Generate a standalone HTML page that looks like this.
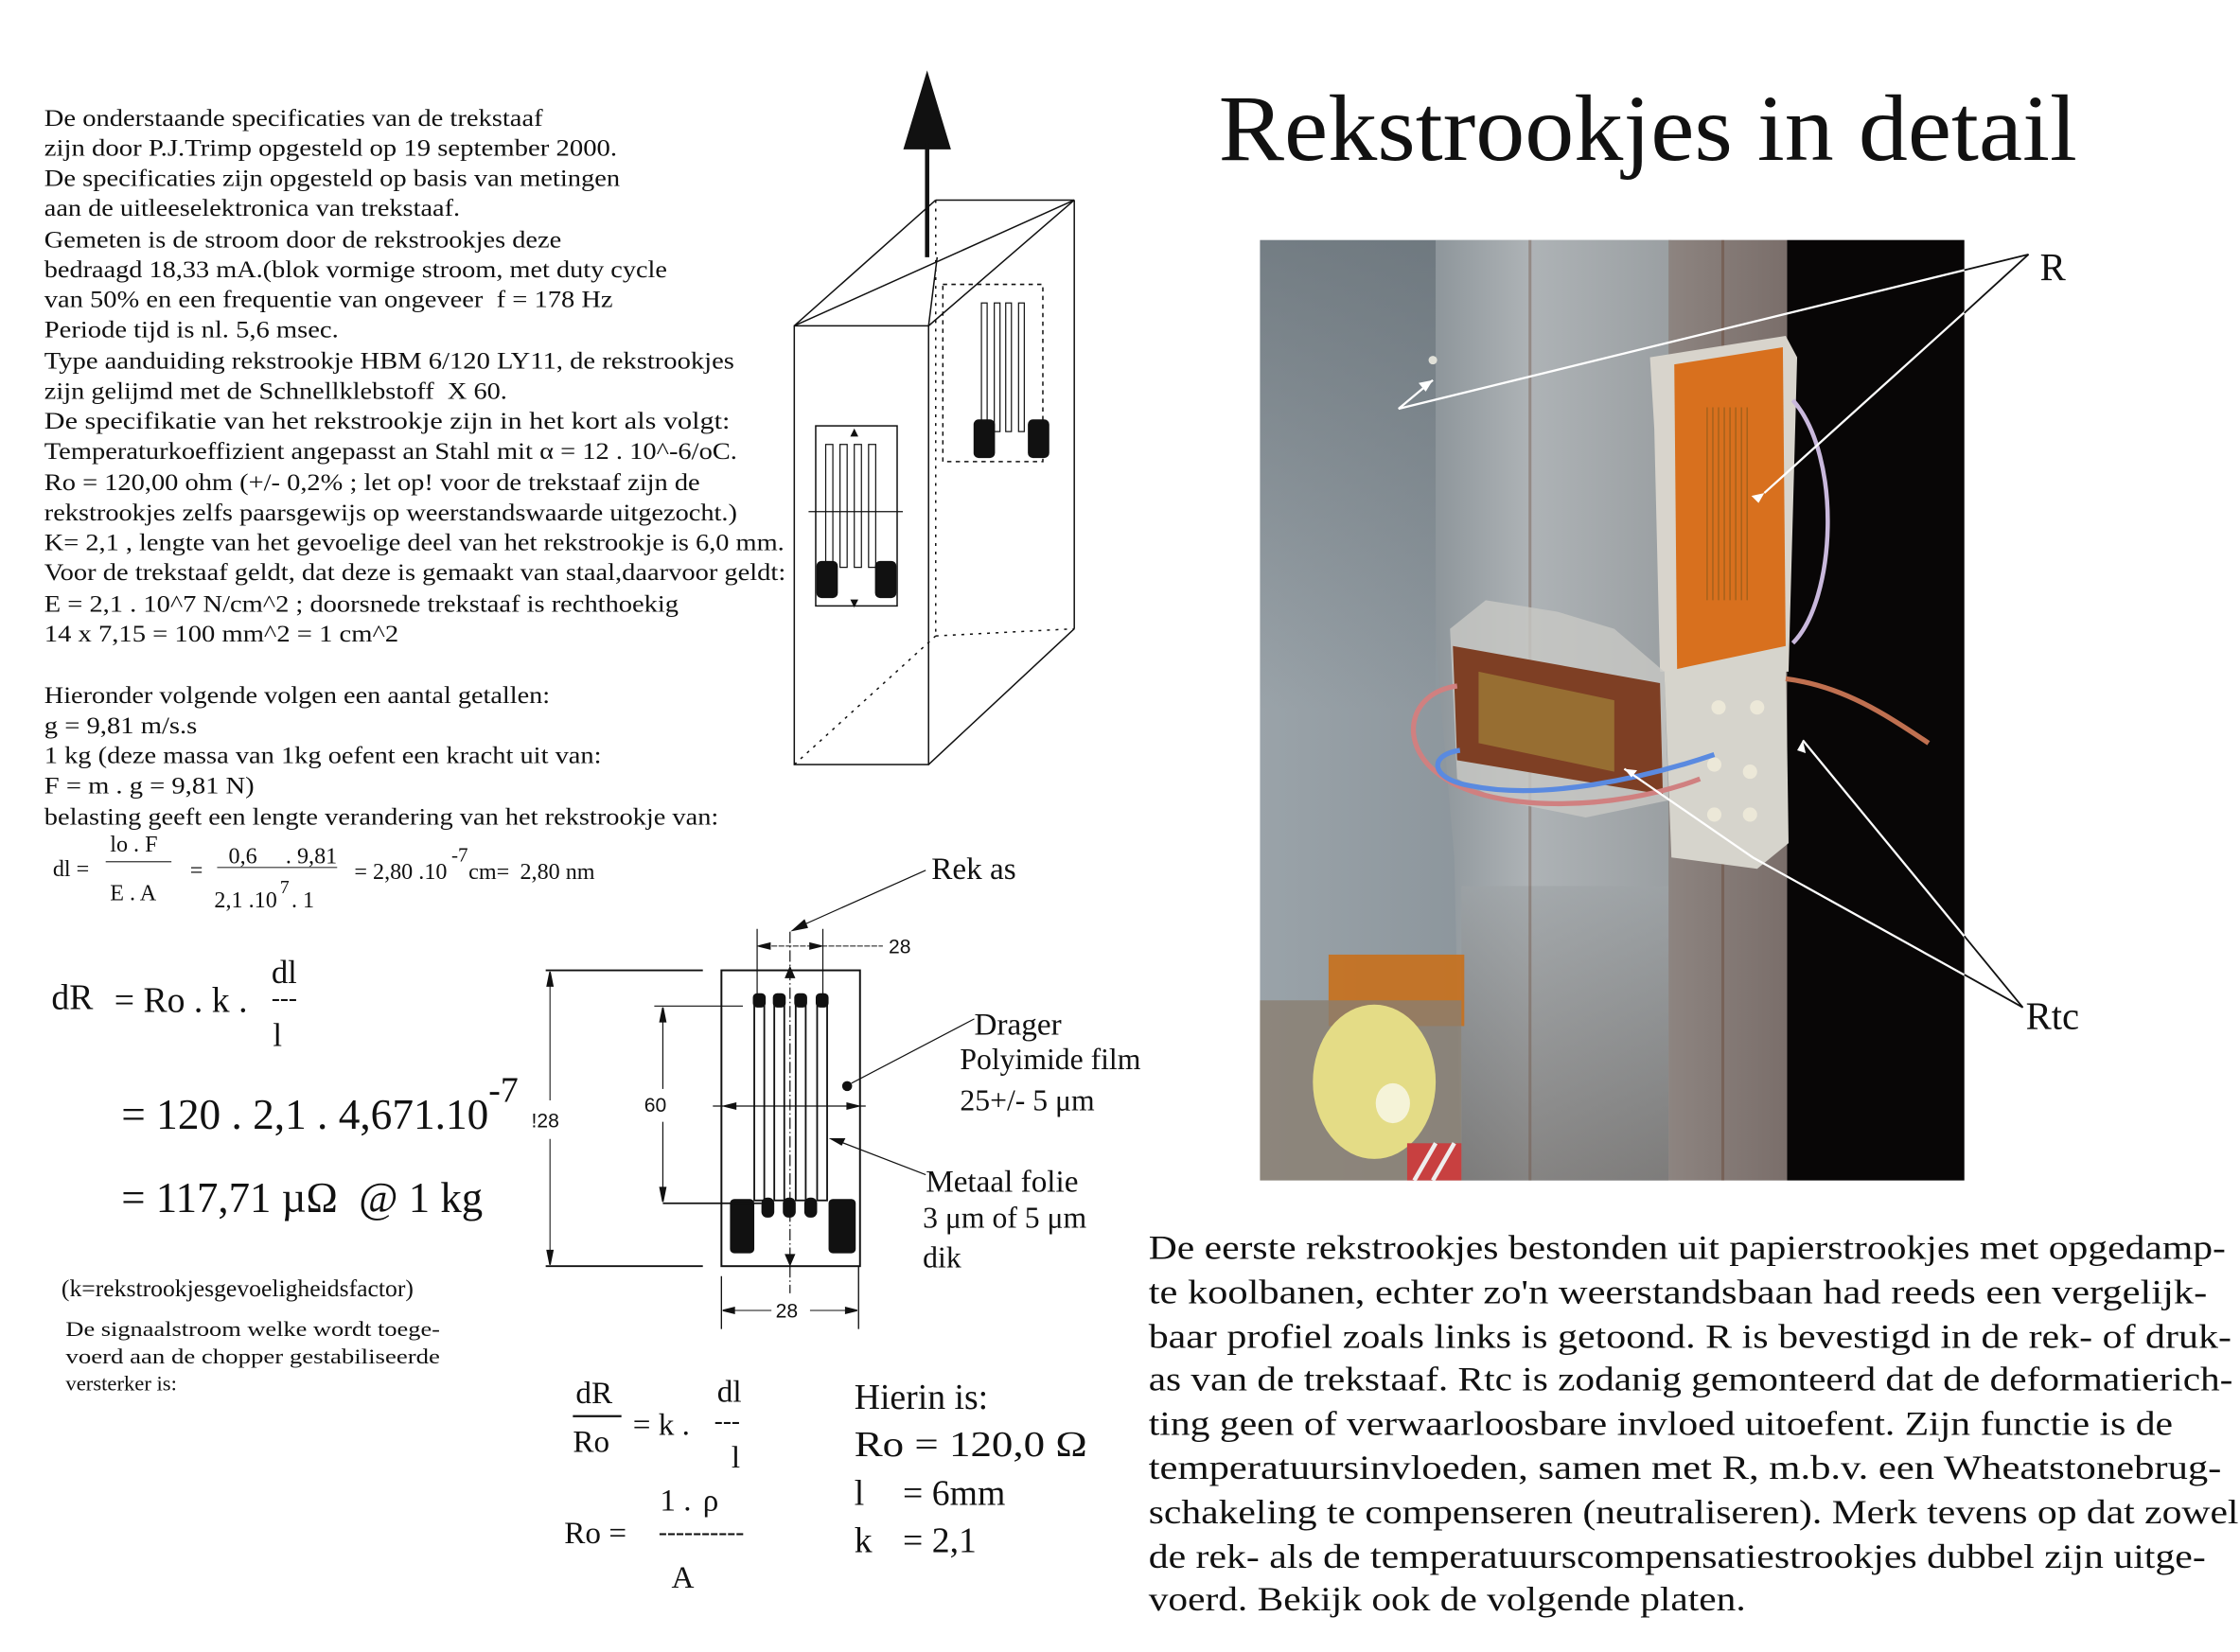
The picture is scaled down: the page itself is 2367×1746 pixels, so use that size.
<!DOCTYPE html>
<html><head><meta charset="utf-8"><style>
html,body{margin:0;padding:0;background:#fff;}
svg{display:block;}
text{font-family:"Liberation Serif",serif;fill:#111;white-space:pre;}
.s{font-family:"Liberation Sans",sans-serif;}
</style></head><body>
<svg width="2367" height="1746" viewBox="0 0 1568 1156" preserveAspectRatio="none" xmlns="http://www.w3.org/2000/svg">
<defs>
<linearGradient id="bg" x1="0" x2="1" y1="0" y2="0"><stop offset="0" stop-color="#9aa3a9"/><stop offset="0.6" stop-color="#7e888f"/><stop offset="1" stop-color="#5e666c"/></linearGradient>
<linearGradient id="bgv" x1="0" x2="0" y1="0" y2="1"><stop offset="0" stop-color="#5a646b" stop-opacity="0.6"/><stop offset="0.5" stop-color="#5a646b" stop-opacity="0"/></linearGradient>
<linearGradient id="front" x1="0" x2="1"><stop offset="0" stop-color="#8e969b"/><stop offset="0.4" stop-color="#aeb3b6"/><stop offset="1" stop-color="#9a9fa2"/></linearGradient>
<linearGradient id="side" x1="0" x2="1"><stop offset="0" stop-color="#8d8480"/><stop offset="1" stop-color="#7a6e6a"/></linearGradient>
<linearGradient id="lowfront" x1="0" y1="0" x2="0" y2="1"><stop offset="0" stop-color="#9ea3a6"/><stop offset="1" stop-color="#6a6460"/></linearGradient>
</defs>

<g font-size="17">
<text x="31" y="88" textLength="349" lengthAdjust="spacingAndGlyphs">De onderstaande specificaties van de trekstaaf</text>
<text x="31" y="109" textLength="401" lengthAdjust="spacingAndGlyphs">zijn door P.J.Trimp opgesteld op 19 september 2000.</text>
<text x="31" y="130" textLength="403" lengthAdjust="spacingAndGlyphs">De specificaties zijn opgesteld op basis van metingen</text>
<text x="31" y="151" textLength="291" lengthAdjust="spacingAndGlyphs">aan de uitleeselektronica van trekstaaf.</text>
<text x="31" y="173" textLength="362" lengthAdjust="spacingAndGlyphs">Gemeten is de stroom door de rekstrookjes deze</text>
<text x="31" y="194" textLength="436" lengthAdjust="spacingAndGlyphs">bedraagd 18,33 mA.(blok vormige stroom, met duty cycle</text>
<text x="31" y="215" textLength="398" lengthAdjust="spacingAndGlyphs">van 50% en een frequentie van ongeveer  f = 178 Hz</text>
<text x="31" y="236" textLength="206" lengthAdjust="spacingAndGlyphs">Periode tijd is nl. 5,6 msec.</text>
<text x="31" y="258" textLength="483" lengthAdjust="spacingAndGlyphs">Type aanduiding rekstrookje HBM 6/120 LY11, de rekstrookjes</text>
<text x="31" y="279" textLength="324" lengthAdjust="spacingAndGlyphs">zijn gelijmd met de Schnellklebstoff  X 60.</text>
<text x="31" y="300" textLength="480" lengthAdjust="spacingAndGlyphs">De specifikatie van het rekstrookje zijn in het kort als volgt:</text>
<text x="31" y="321" textLength="485" lengthAdjust="spacingAndGlyphs">Temperaturkoeffizient angepasst an Stahl mit α = 12 . 10^-6/oC.</text>
<text x="31" y="343" textLength="459" lengthAdjust="spacingAndGlyphs">Ro = 120,00 ohm (+/- 0,2% ; let op! voor de trekstaaf zijn de</text>
<text x="31" y="364" textLength="485" lengthAdjust="spacingAndGlyphs">rekstrookjes zelfs paarsgewijs op weerstandswaarde uitgezocht.)</text>
<text x="31" y="385" textLength="518" lengthAdjust="spacingAndGlyphs">K= 2,1 , lengte van het gevoelige deel van het rekstrookje is 6,0 mm.</text>
<text x="31" y="406" textLength="519" lengthAdjust="spacingAndGlyphs">Voor de trekstaaf geldt, dat deze is gemaakt van staal,daarvoor geldt:</text>
<text x="31" y="428" textLength="444" lengthAdjust="spacingAndGlyphs">E = 2,1 . 10^7 N/cm^2 ; doorsnede trekstaaf is rechthoekig</text>
<text x="31" y="449" textLength="248" lengthAdjust="spacingAndGlyphs">14 x 7,15 = 100 mm^2 = 1 cm^2</text>
<text x="31" y="492" textLength="354" lengthAdjust="spacingAndGlyphs">Hieronder volgende volgen een aantal getallen:</text>
<text x="31" y="513" textLength="107" lengthAdjust="spacingAndGlyphs">g = 9,81 m/s.s</text>
<text x="31" y="534" textLength="390" lengthAdjust="spacingAndGlyphs">1 kg (deze massa van 1kg oefent een kracht uit van:</text>
<text x="31" y="555" textLength="147" lengthAdjust="spacingAndGlyphs">F = m . g = 9,81 N)</text>
<text x="31" y="577" textLength="472" lengthAdjust="spacingAndGlyphs">belasting geeft een lengte verandering van het rekstrookje van:</text>
</g>

<g font-size="16">
<text x="37" y="613">dl =</text>
<text x="77" y="596">lo . F</text>
<line x1="74" y1="603" x2="120" y2="603" stroke="#333" stroke-width="0.8"/>
<text x="77" y="630">E . A</text>
<text x="133" y="614">=</text>
<text x="160" y="604">0,6</text><text x="200" y="604">. 9,81</text>
<line x1="152" y1="607" x2="236" y2="607" stroke="#333" stroke-width="0.8"/>
<text x="150" y="635">2,1 .10</text><text x="196" y="625" font-size="13">7</text><text x="204" y="635">. 1</text>
<text x="248" y="615">= 2,80 .10</text><text x="316" y="603" font-size="14">-7</text><text x="328" y="615">cm=</text><text x="364" y="615">2,80 nm</text>
</g>

<text x="36" y="706" font-size="25">dR</text>
<text x="80" y="708" font-size="25">= Ro . k .</text>
<text x="190" y="688" font-size="23">dl</text>
<text x="190" y="704" font-size="18">---</text>
<text x="191" y="732" font-size="23">l</text>
<text x="85" y="790" font-size="30" textLength="257" lengthAdjust="spacingAndGlyphs">= 120 . 2,1 . 4,671.10</text>
<text x="342" y="771" font-size="25">-7</text>
<text x="85" y="848" font-size="30" textLength="253" lengthAdjust="spacingAndGlyphs">= 117,71 µΩ  @ 1 kg</text>
<text x="43" y="907" font-size="17" fill="#333">(k=rekstrookjesgevoeligheidsfactor)</text>
<text x="46" y="935" font-size="15" textLength="262" lengthAdjust="spacingAndGlyphs">De signaalstroom welke wordt toege-</text>
<text x="46" y="954" font-size="15" textLength="262" lengthAdjust="spacingAndGlyphs">voerd aan de chopper gestabiliseerde</text>
<text x="46" y="973" font-size="15">versterker is:</text>

<text x="403" y="982" font-size="22">dR</text>
<line x1="401" y1="991" x2="435" y2="991" stroke="#111" stroke-width="1.5"/>
<text x="401" y="1016" font-size="22">Ro</text>
<text x="443" y="1004" font-size="22">= k .</text>
<text x="502" y="981" font-size="22">dl</text>
<text x="500" y="1000" font-size="18">---</text>
<text x="512" y="1027" font-size="22">l</text>
<text x="462" y="1057" font-size="22">1 .</text><text x="492" y="1057" font-size="22">ρ</text>
<text x="395" y="1080" font-size="22">Ro =</text>
<text x="461" y="1078" font-size="18">----------</text>
<text x="470" y="1111" font-size="22">A</text>
<text x="598" y="986" font-size="25">Hierin is:</text>
<text x="598" y="1019" font-size="25" textLength="163" lengthAdjust="spacingAndGlyphs">Ro = 120,0 Ω</text>
<text x="598" y="1053" font-size="25">l</text><text x="632" y="1053" font-size="25">= 6mm</text>
<text x="598" y="1086" font-size="25">k</text><text x="632" y="1086" font-size="25">= 2,1</text>

<g stroke="#111" stroke-width="1" fill="none">
<polygon points="649,51 633,104 665,104" fill="#111"/>
<line x1="649" y1="100" x2="649" y2="180" stroke-width="3"/>
<rect x="556" y="228" width="94" height="307"/>
<line x1="556" y1="228" x2="655" y2="140"/>
<line x1="655" y1="140" x2="752" y2="140"/>
<line x1="556" y1="228" x2="752" y2="140"/>
<line x1="650" y1="228" x2="752" y2="140"/>
<line x1="752" y1="140" x2="752" y2="440"/>
<line x1="650" y1="535" x2="752" y2="440"/>
<line x1="650" y1="228" x2="656" y2="180" />
<g stroke-dasharray="2,4">
<line x1="655" y1="140" x2="655" y2="445"/>
<line x1="655" y1="445" x2="752" y2="440"/>
<line x1="556" y1="535" x2="655" y2="445"/>
</g>
<rect x="571" y="298" width="57" height="126"/>
<g stroke-width="0.8">
<rect x="578" y="311" width="5" height="86"/><rect x="588" y="311" width="5" height="86"/><rect x="598" y="311" width="5" height="86"/><rect x="608" y="311" width="5" height="86"/>
<line x1="566" y1="358" x2="632" y2="358"/>
</g>
<rect x="572" y="393" width="14" height="25" rx="3" fill="#111"/>
<rect x="613" y="393" width="14" height="25" rx="3" fill="#111"/>
<polygon points="598,301 596,305 600,305" fill="#111"/>
<polygon points="598,424 596,420 600,420" fill="#111"/>
<rect x="660" y="199" width="70" height="124" stroke-dasharray="3,3"/>
<g stroke-width="0.8">
<rect x="687" y="212" width="4" height="90"/><rect x="696" y="212" width="4" height="90"/><rect x="704" y="212" width="4" height="90"/><rect x="713" y="212" width="4" height="90"/>
</g>
<rect x="682" y="294" width="14" height="26" rx="3" fill="#111"/>
<rect x="720" y="294" width="14" height="26" rx="3" fill="#111"/>
</g>

<g stroke="#111" fill="none" stroke-width="1">
<rect x="505" y="679" width="97" height="207" stroke-width="1.3"/>
<g stroke-width="1.2">
<rect x="528" y="700" width="7" height="140"/><rect x="542" y="700" width="7" height="140"/><rect x="557" y="700" width="7" height="140"/><rect x="572" y="700" width="7" height="140"/>
</g>
<g fill="#111" stroke="none">
<rect x="527" y="695" width="9" height="10" rx="3"/><rect x="541" y="695" width="9" height="10" rx="3"/><rect x="556" y="695" width="9" height="10" rx="3"/><rect x="571" y="695" width="9" height="10" rx="3"/>
<rect x="533" y="838" width="9" height="14" rx="4"/><rect x="548" y="838" width="9" height="14" rx="4"/><rect x="563" y="838" width="9" height="14" rx="4"/>
<rect x="511" y="839" width="17" height="38" rx="3"/><rect x="580" y="839" width="19" height="38" rx="3"/>
<circle cx="593" cy="760" r="3.5"/>
</g>
<line x1="553" y1="652" x2="553" y2="905" stroke-dasharray="8,2,1,2" stroke-width="0.8"/>
<polygon points="553,677 550,684 556,684" fill="#111"/>
<polygon points="553,885 550,878 556,878" fill="#111"/>
<line x1="382" y1="679" x2="492" y2="679" stroke-width="1.3"/>
<line x1="382" y1="886" x2="492" y2="886" stroke-width="1.3"/>
<line x1="385" y1="681" x2="385" y2="770" stroke-width="0.7"/>
<line x1="385" y1="797" x2="385" y2="884" stroke-width="0.7"/>
<polygon points="385,680 383,690 387,690" fill="#111"/><polygon points="385,885 383,875 387,875" fill="#111"/>
<line x1="458" y1="704" x2="520" y2="704" stroke-width="0.8"/>
<line x1="464" y1="842" x2="533" y2="842" stroke-width="1.2"/>
<line x1="464" y1="706" x2="464" y2="762" stroke-width="0.8"/>
<line x1="464" y1="785" x2="464" y2="840" stroke-width="0.8"/>
<polygon points="464,705 462,715 466,715" fill="#111"/><polygon points="464,841 462,831 466,831" fill="#111"/>
<line x1="499" y1="774" x2="606" y2="774" stroke-width="0.8"/>
<polygon points="507,774 515,772 515,776" fill="#111"/><polygon points="601,774 593,772 593,776" fill="#111"/>
<line x1="530" y1="650" x2="530" y2="700" stroke-width="0.8"/>
<line x1="576" y1="650" x2="576" y2="700" stroke-width="0.8"/>
<line x1="530" y1="662" x2="618" y2="662" stroke-width="0.7" stroke-dasharray="4,1"/>
<polygon points="531,662 539,660 539,664" fill="#111"/><polygon points="575,662 567,660 567,664" fill="#111"/>
<line x1="505" y1="893" x2="505" y2="930" stroke-width="0.9"/>
<line x1="601" y1="886" x2="601" y2="930" stroke-width="0.9"/>
<line x1="506" y1="917" x2="540" y2="917" stroke-width="0.7"/>
<line x1="567" y1="917" x2="600" y2="917" stroke-width="0.7"/>
<polygon points="506,917 514,915 514,919" fill="#111"/><polygon points="600,917 592,915 592,919" fill="#111"/>
<line x1="648" y1="609" x2="556" y2="650" stroke-width="0.8"/>
<polygon points="555,651 563,644 565,649" fill="#111"/>
<line x1="682" y1="713" x2="596" y2="758" stroke-width="0.8"/>
<line x1="648" y1="822" x2="583" y2="797" stroke-width="0.8"/>
<polygon points="582,797 591,797 589,801" fill="#111"/>
</g>
<g class="s" font-size="14" fill="#222">
<text class="s" x="622" y="667" fill="#333">28</text>
<text class="s" x="372" y="789" fill="#333">!28</text>
<text class="s" x="451" y="778" fill="#333">60</text>
<text class="s" x="543" y="922" fill="#333">28</text>
</g>
<text x="652" y="615" font-size="22">Rek as</text>
<text x="682" y="724" font-size="22">Drager</text>
<text x="672" y="748" font-size="21" fill="#333">Polyimide film</text>
<text x="672" y="777" font-size="21" fill="#333">25+/- 5 μm</text>
<text x="648" y="834" font-size="22">Metaal folie</text>
<text x="646" y="859" font-size="21" fill="#333">3 μm of 5 μm</text>
<text x="646" y="887" font-size="21" fill="#333">dik</text>

<text x="853" y="112" font-size="66" textLength="601" lengthAdjust="spacingAndGlyphs">Rekstrookjes in detail</text>

<g>
<rect x="882" y="168" width="493" height="658" fill="url(#bg)"/>
<rect x="882" y="168" width="123" height="658" fill="url(#bgv)"/>
<polygon points="1005,168 1170,168 1168,826 1023,826 1018,600 1005,450" fill="url(#front)"/>
<rect x="1023" y="620" width="145" height="206" fill="url(#lowfront)" opacity="0.6"/>
<rect x="1168" y="168" width="83" height="658" fill="url(#side)"/>
<rect x="1251" y="168" width="124" height="658" fill="#080606"/>
<rect x="1205" y="168" width="2" height="658" fill="#6a4a3a" opacity="0.5"/>
<rect x="1070" y="168" width="2" height="658" fill="#6e5040" opacity="0.4"/>
<rect x="930" y="668" width="95" height="50" fill="#c8701c" opacity="0.9"/>
<rect x="882" y="700" width="141" height="126" fill="#8a7e70" opacity="0.8"/>
<ellipse cx="962" cy="757" rx="43" ry="54" fill="#e4dc86"/>
<ellipse cx="975" cy="772" rx="12" ry="14" fill="#f5f3d8"/>
<rect x="985" y="800" width="38" height="26" fill="#c84040"/>
<line x1="990" y1="826" x2="1005" y2="800" stroke="#eee" stroke-width="3"/>
<line x1="1003" y1="826" x2="1018" y2="800" stroke="#eee" stroke-width="3"/>
<circle cx="1003" cy="252" r="3" fill="#e0e0d8"/>
<polygon points="1155,250 1250,235 1258,250 1252,470 1162,470 1158,300" fill="#d8d4cc"/>
<polygon points="1015,440 1040,420 1090,428 1130,440 1165,470 1168,560 1110,572 1050,560 1020,545" fill="#c8c8c4" opacity="0.8"/>
<polygon points="1172,255 1248,243 1250,455 1174,472" fill="#d8701e"/>
<g stroke="#8a5a1a" stroke-width="0.8" opacity="0.8">
<line x1="1195" y1="285" x2="1195" y2="420"/><line x1="1199" y1="285" x2="1199" y2="420"/><line x1="1203" y1="285" x2="1203" y2="420"/><line x1="1207" y1="285" x2="1207" y2="420"/><line x1="1211" y1="285" x2="1211" y2="420"/><line x1="1215" y1="285" x2="1215" y2="420"/><line x1="1219" y1="285" x2="1219" y2="420"/><line x1="1223" y1="285" x2="1223" y2="420"/>
</g>
<polygon points="1165,470 1250,452 1252,590 1230,608 1170,600" fill="#d6d4cc"/>
<circle cx="1203" cy="495" r="5" fill="#ece8d8"/><circle cx="1230" cy="495" r="5" fill="#ece8d8"/>
<circle cx="1200" cy="535" r="5" fill="#ece8d8"/><circle cx="1225" cy="540" r="5" fill="#ece8d8"/>
<circle cx="1200" cy="570" r="5" fill="#ece8d8"/><circle cx="1225" cy="570" r="5" fill="#ece8d8"/>
<polygon points="1017,452 1162,478 1164,556 1020,532" fill="#7e3f24"/>
<polygon points="1035,470 1130,490 1130,540 1035,520" fill="#9e7a36" opacity="0.8"/>
<path d="M1255,280 C1290,320 1285,420 1255,450" stroke="#c9b8dc" stroke-width="3" fill="none"/>
<path d="M1250,475 C1290,480 1320,500 1350,520" stroke="#c07050" stroke-width="3.5" fill="none"/>
<path d="M1020,480 C985,485 980,520 1005,540 C1040,570 1130,568 1190,545" stroke="#d08080" stroke-width="3.5" fill="none"/>
<path d="M1022,525 C1000,528 1000,545 1030,550 C1080,560 1150,545 1200,528" stroke="#5a8ae0" stroke-width="3.5" fill="none"/>
<g stroke="#fff" stroke-width="1.5" fill="none">
<polyline points="1420,178 979,286 1003,266"/>
<line x1="1420" y1="178" x2="1235" y2="345"/>
<line x1="1416" y1="705" x2="1262" y2="518"/>
<polyline points="1416,705 1227,600 1137,538"/>
</g>
<polygon points="1003,266 993,268 998,274" fill="#fff"/>
<polygon points="1235,345 1226,347 1231,352" fill="#fff"/>
<polygon points="1262,518 1264,527 1258,525" fill="#fff"/>
<polygon points="1137,538 1146,539 1142,544" fill="#fff"/>
</g>
<g stroke="#111" stroke-width="1.2">
<line x1="1420" y1="178" x2="1375" y2="189"/>
<line x1="1420" y1="178" x2="1375" y2="219"/>
<line x1="1416" y1="705" x2="1375" y2="655"/>
<line x1="1416" y1="705" x2="1375" y2="682"/>
</g>
<text x="1428" y="196" font-size="27">R</text>
<text x="1418" y="720" font-size="27">Rtc</text>

<g font-size="24">
<text x="804" y="881" textLength="754" lengthAdjust="spacingAndGlyphs">De eerste rekstrookjes bestonden uit papierstrookjes met opgedamp-</text>
<text x="804" y="912" textLength="741" lengthAdjust="spacingAndGlyphs">te koolbanen, echter zo'n weerstandsbaan had reeds een vergelijk-</text>
<text x="804" y="943" textLength="758" lengthAdjust="spacingAndGlyphs">baar profiel zoals links is getoond. R is bevestigd in de rek- of druk-</text>
<text x="804" y="973" textLength="759" lengthAdjust="spacingAndGlyphs">as van de trekstaaf. Rtc is zodanig gemonteerd dat de deformatierich-</text>
<text x="804" y="1004" textLength="717" lengthAdjust="spacingAndGlyphs">ting geen of verwaarloosbare invloed uitoefent. Zijn functie is de</text>
<text x="804" y="1035" textLength="751" lengthAdjust="spacingAndGlyphs">temperatuursinvloeden, samen met R, m.b.v. een Wheatstonebrug-</text>
<text x="804" y="1066" textLength="763" lengthAdjust="spacingAndGlyphs">schakeling te compenseren (neutraliseren). Merk tevens op dat zowel</text>
<text x="804" y="1097" textLength="740" lengthAdjust="spacingAndGlyphs">de rek- als de temperatuurscompensatiestrookjes dubbel zijn uitge-</text>
<text x="804" y="1127" textLength="418" lengthAdjust="spacingAndGlyphs">voerd. Bekijk ook de volgende platen.</text>
</g>
</svg>
</body></html>
